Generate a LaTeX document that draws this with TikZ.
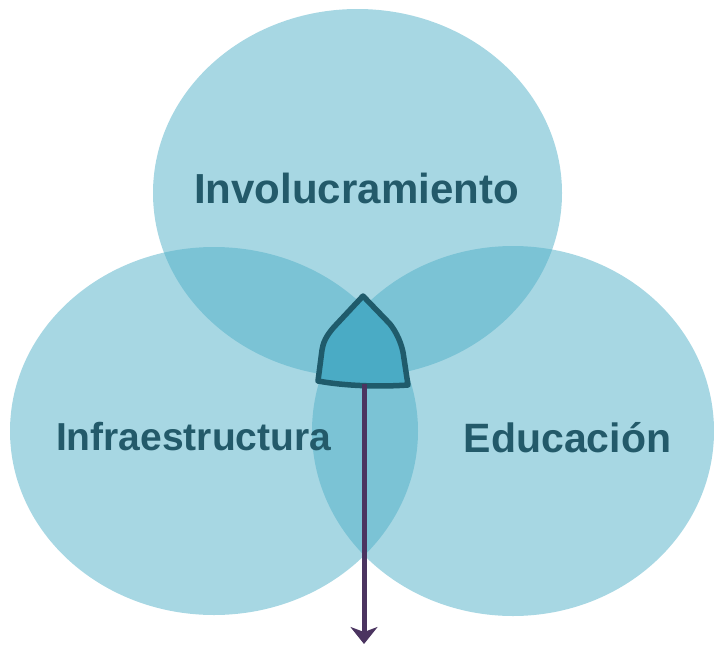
\documentclass[tikz,border=0pt]{standalone}
\usepackage{fontspec}
\setmainfont{Liberation Sans}
\usetikzlibrary{arrows.meta,shapes.geometric}
\definecolor{circfill}{RGB}{80,175,199}
\definecolor{labeltext}{RGB}{35,90,106}
\definecolor{shieldfill}{RGB}{74,171,197}
\definecolor{shieldline}{RGB}{31,91,107}
\definecolor{arrowcol}{RGB}{75,52,96}
\tikzset{
  venn/.style={ellipse, fill=circfill, fill opacity=0.5, draw=none, inner sep=0pt},
  vlabel/.style={text=labeltext, font=\bfseries, anchor=base, inner sep=0pt},
  shield/.style={fill=shieldfill, draw=shieldline, line width=5.5pt, line join=round},
  downarrow/.style={draw=arrowcol, line width=5pt, -{Stealth[length=17pt,width=27pt,inset=5pt]}}
}
\begin{document}
\begin{tikzpicture}[x=1pt,y=-1pt]
\useasboundingbox (0,0) rectangle (714,645);
\node[venn, minimum width=409pt, minimum height=368pt] (top) at (357.5,193) {};
\node[venn, minimum width=408pt, minimum height=368pt] (left) at (214,431) {};
\node[venn, minimum width=402pt, minimum height=370pt] (right) at (513,431) {};
\path[shield] (363,296) -- (334,327) .. controls (326,336) and (323,343) .. (322,350)
  -- (318,381) .. controls (345,386) and (380,387) .. (408,385)
  -- (403,352) .. controls (401,343) and (397,333) .. (390,324) -- cycle;
\coordinate (shieldbottom) at (364,384);
\coordinate (arrowend) at (364,644);
\draw[downarrow] (shieldbottom) -- (arrowend);
\node[vlabel, font=\fontsize{42}{46}\selectfont\bfseries] (inv) at (356.5,203.3) {Involucramiento};
\node[vlabel, font=\fontsize{39}{43}\selectfont\bfseries] (inf) at (193.7,450) {Infraestructura};
\node[vlabel, font=\fontsize{41}{45}\selectfont\bfseries] (edu) at (567.5,452.7) {Educación};
\end{tikzpicture}
\end{document}
